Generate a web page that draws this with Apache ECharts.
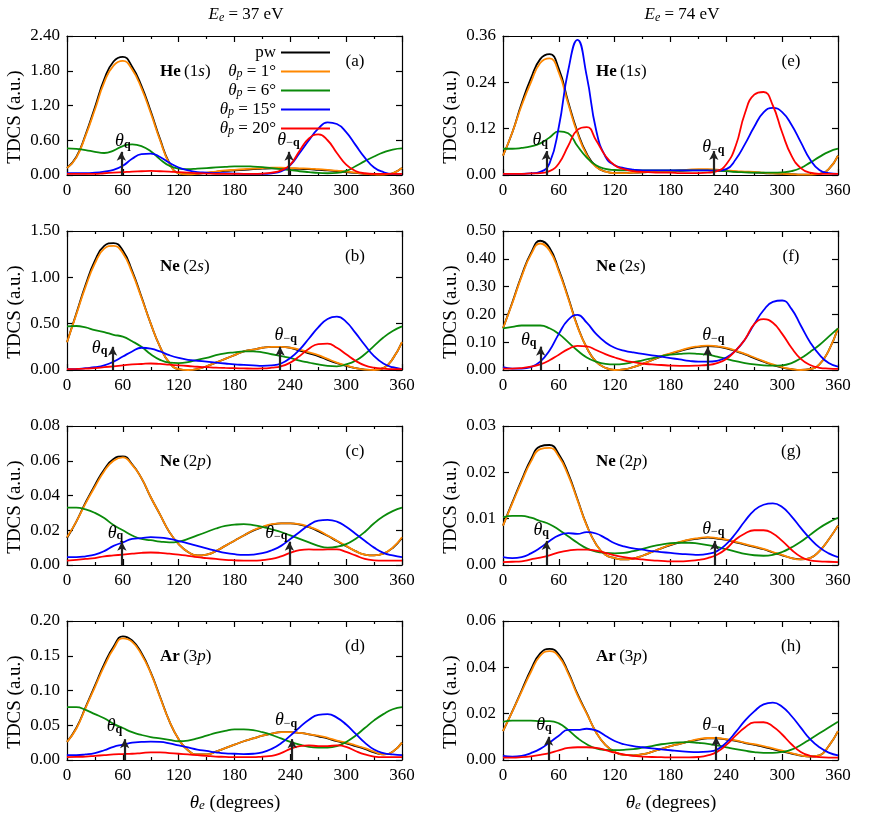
<!DOCTYPE html>
<html>
<head>
<meta charset="utf-8">
<script src="https://cdn.jsdelivr.net/npm/echarts@6/dist/echarts.min.js"></script>
<style>
html, body { margin: 0; padding: 0; background: #fff; }
#chart { width: 872px; height: 816px; }
#err { position: absolute; left: 600px; top: 800px; width: 270px; font: 8px monospace; white-space: pre-wrap; color: #c00; }
</style>
</head>
<body>
<div id="chart"></div>
<div id="err"></div>
<script>
// emission angle, degrees
var theta = [0,10,20,30,40,50,60,70,80,90,100,110,120,130,140,150,160,170,180,190,200,210,220,230,240,250,260,270,280,290,300,310,320,330,340,350,360];

// (a) He 1s, Ee = 37 eV
var a_pw  = [0.12,0.31,0.70,1.17,1.65,1.96,2.04,1.87,1.54,1.10,0.62,0.21,0.03,0.01,0.02,0.035,0.055,0.07,0.08,0.09,0.10,0.11,0.115,0.115,0.11,0.105,0.10,0.09,0.08,0.065,0.05,0.035,0.018,0.009,0.005,0.03,0.12];
var a_p1  = [0.12,0.30,0.68,1.13,1.60,1.89,1.97,1.82,1.50,1.07,0.60,0.20,0.03,0.01,0.02,0.04,0.06,0.08,0.09,0.10,0.11,0.12,0.125,0.125,0.12,0.115,0.11,0.10,0.09,0.075,0.06,0.04,0.02,0.01,0.005,0.03,0.12];
var a_p6  = [0.46,0.45,0.43,0.40,0.38,0.42,0.50,0.53,0.50,0.41,0.27,0.16,0.11,0.10,0.11,0.12,0.13,0.14,0.15,0.15,0.145,0.135,0.12,0.10,0.085,0.065,0.05,0.035,0.03,0.035,0.07,0.15,0.24,0.32,0.39,0.44,0.46];
var a_p15 = [0.03,0.03,0.03,0.04,0.06,0.09,0.16,0.28,0.36,0.37,0.31,0.21,0.13,0.08,0.05,0.04,0.03,0.03,0.025,0.02,0.02,0.02,0.03,0.06,0.17,0.38,0.60,0.80,0.91,0.88,0.74,0.52,0.30,0.13,0.05,0.02,0.02];
var a_p20 = [0.02,0.02,0.02,0.02,0.03,0.04,0.05,0.06,0.065,0.07,0.065,0.06,0.05,0.04,0.03,0.025,0.02,0.02,0.02,0.02,0.02,0.025,0.04,0.08,0.18,0.42,0.63,0.70,0.60,0.38,0.18,0.07,0.03,0.02,0.02,0.02,0.02];

// (b) Ne 2s, 37 eV
var b_pw  = [0.30,0.61,0.92,1.18,1.34,1.37,1.29,1.07,0.79,0.50,0.25,0.08,0.01,0.0,0.01,0.04,0.08,0.12,0.16,0.20,0.22,0.24,0.25,0.25,0.24,0.21,0.18,0.15,0.11,0.075,0.045,0.02,0.005,0.0,0.02,0.12,0.30];
var b_p1  = [0.30,0.60,0.90,1.15,1.31,1.34,1.26,1.05,0.78,0.50,0.25,0.08,0.01,0.0,0.01,0.04,0.08,0.12,0.16,0.20,0.22,0.24,0.25,0.25,0.24,0.22,0.19,0.16,0.12,0.08,0.05,0.02,0.005,0.0,0.02,0.12,0.30];
var b_p6  = [0.47,0.475,0.46,0.43,0.41,0.38,0.36,0.31,0.25,0.17,0.11,0.08,0.075,0.085,0.11,0.13,0.16,0.18,0.19,0.20,0.20,0.19,0.17,0.15,0.13,0.10,0.08,0.06,0.045,0.04,0.06,0.10,0.17,0.26,0.35,0.42,0.47];
var b_p15 = [0.01,0.01,0.02,0.03,0.05,0.09,0.145,0.20,0.24,0.23,0.20,0.16,0.13,0.11,0.10,0.09,0.08,0.07,0.06,0.055,0.05,0.045,0.05,0.07,0.13,0.22,0.34,0.46,0.55,0.575,0.52,0.40,0.27,0.15,0.07,0.03,0.01];
var b_p20 = [0.01,0.012,0.015,0.02,0.03,0.04,0.05,0.06,0.065,0.07,0.065,0.057,0.05,0.043,0.035,0.03,0.025,0.022,0.02,0.017,0.015,0.017,0.025,0.04,0.08,0.15,0.23,0.28,0.285,0.24,0.17,0.10,0.05,0.025,0.015,0.01,0.01];

// (c) Ne 2p, 37 eV
var c_pw  = [0.0155,0.025,0.036,0.046,0.055,0.061,0.0625,0.058,0.05,0.039,0.029,0.019,0.012,0.0075,0.0055,0.006,0.008,0.011,0.014,0.017,0.0198,0.0218,0.0233,0.024,0.024,0.0233,0.0218,0.0195,0.0168,0.0138,0.0108,0.008,0.006,0.0055,0.0065,0.0098,0.0155];
var c_p1  = [0.016,0.025,0.0355,0.045,0.054,0.06,0.062,0.0576,0.05,0.039,0.029,0.019,0.012,0.0075,0.0055,0.006,0.008,0.011,0.014,0.017,0.02,0.022,0.0235,0.024,0.024,0.0235,0.022,0.02,0.017,0.014,0.011,0.008,0.006,0.0055,0.0065,0.01,0.016];
var c_p6  = [0.033,0.033,0.032,0.03,0.027,0.023,0.02,0.017,0.015,0.0143,0.0135,0.013,0.0135,0.015,0.017,0.019,0.021,0.0225,0.0232,0.0235,0.023,0.022,0.0205,0.019,0.017,0.015,0.013,0.011,0.01,0.0105,0.012,0.015,0.019,0.024,0.028,0.031,0.033];
var c_p15 = [0.0045,0.0045,0.005,0.006,0.008,0.011,0.013,0.015,0.0155,0.016,0.0158,0.015,0.0138,0.0125,0.011,0.0095,0.0082,0.007,0.0062,0.0058,0.006,0.0068,0.0085,0.011,0.015,0.019,0.023,0.0255,0.026,0.025,0.022,0.018,0.014,0.01,0.007,0.0055,0.0045];
var c_p20 = [0.0025,0.003,0.0035,0.004,0.005,0.0055,0.006,0.0065,0.007,0.0072,0.007,0.0065,0.006,0.0053,0.0045,0.004,0.0035,0.003,0.0027,0.0025,0.0025,0.0028,0.0035,0.005,0.007,0.0085,0.009,0.0088,0.009,0.009,0.0075,0.0055,0.0035,0.0027,0.0025,0.0025,0.0025];

// (d) Ar 3p, 37 eV
var d_pw  = [0.026,0.046,0.076,0.107,0.138,0.163,0.178,0.172,0.154,0.126,0.091,0.056,0.03,0.014,0.008,0.008,0.012,0.017,0.022,0.027,0.031,0.035,0.038,0.04,0.04,0.039,0.037,0.034,0.031,0.027,0.024,0.02,0.016,0.011,0.008,0.012,0.025];
var d_p1  = [0.026,0.045,0.075,0.105,0.135,0.16,0.175,0.17,0.152,0.125,0.09,0.056,0.03,0.014,0.008,0.008,0.012,0.017,0.022,0.027,0.031,0.035,0.038,0.04,0.04,0.039,0.037,0.035,0.032,0.028,0.025,0.021,0.017,0.012,0.008,0.012,0.025];
var d_p6  = [0.076,0.076,0.072,0.066,0.06,0.052,0.046,0.04,0.036,0.033,0.031,0.029,0.027,0.028,0.031,0.035,0.039,0.042,0.044,0.044,0.043,0.04,0.036,0.031,0.026,0.022,0.019,0.018,0.018,0.02,0.026,0.035,0.046,0.057,0.066,0.073,0.076];
var d_p15 = [0.007,0.007,0.008,0.01,0.014,0.019,0.022,0.025,0.026,0.0265,0.026,0.024,0.021,0.018,0.015,0.013,0.011,0.0095,0.009,0.0085,0.009,0.011,0.016,0.024,0.035,0.047,0.058,0.065,0.066,0.061,0.051,0.038,0.025,0.015,0.01,0.008,0.007];
var d_p20 = [0.004,0.0045,0.005,0.006,0.007,0.008,0.0085,0.009,0.01,0.011,0.011,0.01,0.009,0.008,0.007,0.006,0.005,0.0045,0.004,0.004,0.004,0.005,0.006,0.01,0.016,0.02,0.021,0.02,0.02,0.021,0.019,0.013,0.008,0.005,0.004,0.004,0.004];

// (e) He 1s, Ee = 74 eV
var e_pw  = [0.05,0.11,0.185,0.25,0.30,0.313,0.275,0.19,0.112,0.055,0.022,0.009,0.005,0.005,0.006,0.007,0.008,0.009,0.01,0.011,0.012,0.013,0.013,0.012,0.011,0.009,0.008,0.007,0.005,0.004,0.003,0.002,0.001,0.001,0.003,0.015,0.05];
var e_p1  = [0.05,0.11,0.18,0.24,0.29,0.302,0.265,0.185,0.108,0.052,0.021,0.009,0.005,0.005,0.006,0.007,0.008,0.009,0.01,0.012,0.014,0.015,0.015,0.014,0.012,0.01,0.009,0.008,0.006,0.004,0.003,0.002,0.001,0.001,0.003,0.015,0.05];
var e_p6  = [0.068,0.068,0.07,0.074,0.082,0.097,0.113,0.108,0.075,0.045,0.025,0.016,0.013,0.012,0.012,0.012,0.012,0.012,0.012,0.012,0.012,0.012,0.012,0.011,0.01,0.008,0.007,0.006,0.006,0.006,0.007,0.01,0.018,0.032,0.047,0.06,0.068];
var e_p15 = [0.003,0.003,0.003,0.004,0.008,0.03,0.125,0.27,0.35,0.256,0.117,0.048,0.025,0.018,0.014,0.012,0.012,0.012,0.012,0.012,0.012,0.012,0.012,0.011,0.015,0.04,0.08,0.125,0.162,0.174,0.163,0.13,0.085,0.04,0.013,0.005,0.003];
var e_p20 = [0.003,0.003,0.003,0.004,0.005,0.01,0.03,0.075,0.117,0.124,0.09,0.05,0.025,0.015,0.01,0.008,0.007,0.006,0.006,0.005,0.005,0.005,0.006,0.01,0.028,0.075,0.16,0.208,0.215,0.18,0.11,0.05,0.018,0.006,0.003,0.003,0.003];

// (f) Ne 2s, 74 eV
var f_pw  = [0.15,0.243,0.34,0.42,0.465,0.44,0.36,0.262,0.158,0.08,0.03,0.008,0.0,0.002,0.01,0.022,0.035,0.048,0.058,0.068,0.077,0.083,0.086,0.084,0.078,0.068,0.056,0.043,0.03,0.018,0.009,0.003,0.0,0.003,0.02,0.07,0.15];
var f_p1  = [0.15,0.24,0.336,0.415,0.455,0.43,0.355,0.258,0.156,0.08,0.03,0.008,0.0,0.002,0.01,0.022,0.035,0.05,0.06,0.07,0.08,0.085,0.088,0.085,0.08,0.07,0.058,0.045,0.032,0.02,0.01,0.003,0.0,0.003,0.02,0.07,0.15];
var f_p6  = [0.15,0.155,0.16,0.16,0.16,0.15,0.13,0.10,0.07,0.045,0.03,0.022,0.02,0.022,0.028,0.035,0.042,0.05,0.055,0.058,0.06,0.058,0.055,0.048,0.04,0.032,0.025,0.02,0.017,0.016,0.017,0.025,0.042,0.065,0.09,0.12,0.15];
var f_p15 = [0.01,0.005,0.005,0.01,0.03,0.07,0.13,0.18,0.198,0.17,0.13,0.10,0.08,0.07,0.063,0.058,0.053,0.048,0.043,0.038,0.033,0.03,0.03,0.033,0.045,0.07,0.11,0.165,0.215,0.245,0.25,0.22,0.16,0.10,0.055,0.025,0.012];
var f_p20 = [0.005,0.005,0.007,0.012,0.02,0.035,0.055,0.075,0.087,0.085,0.072,0.057,0.045,0.035,0.028,0.023,0.02,0.018,0.016,0.015,0.015,0.016,0.018,0.025,0.04,0.07,0.11,0.165,0.183,0.17,0.13,0.08,0.04,0.018,0.008,0.005,0.004];

// (g) Ne 2p, 74 eV
var g_pw  = [0.0085,0.0135,0.0183,0.0228,0.0256,0.0259,0.0239,0.0198,0.0142,0.0086,0.0045,0.0022,0.0015,0.0012,0.0014,0.002,0.0028,0.0036,0.0043,0.0049,0.0054,0.0057,0.0059,0.0057,0.0054,0.0049,0.0044,0.0039,0.0034,0.0027,0.0021,0.0015,0.0012,0.0015,0.003,0.0055,0.0085];
var g_p1  = [0.0085,0.0133,0.018,0.0223,0.025,0.0253,0.0234,0.0194,0.014,0.0085,0.0045,0.0022,0.0015,0.0012,0.0014,0.002,0.0028,0.0036,0.0044,0.005,0.0055,0.0058,0.006,0.0058,0.0055,0.005,0.0045,0.004,0.0035,0.0028,0.0022,0.0015,0.0012,0.0015,0.003,0.0055,0.0085];
var g_p6  = [0.0103,0.0106,0.0106,0.0102,0.0095,0.0088,0.0076,0.0062,0.0048,0.0036,0.0029,0.0026,0.0025,0.0026,0.003,0.0035,0.004,0.0044,0.0047,0.0048,0.0048,0.0046,0.0043,0.0039,0.0034,0.0029,0.0024,0.0021,0.002,0.0022,0.0028,0.0038,0.005,0.0065,0.008,0.0092,0.0102];
var g_p15 = [0.0017,0.0015,0.0017,0.0025,0.0037,0.0052,0.0064,0.0069,0.0067,0.0071,0.0068,0.0058,0.0047,0.004,0.0036,0.0033,0.003,0.0028,0.0026,0.0024,0.0023,0.0022,0.0024,0.003,0.0045,0.0068,0.0095,0.0118,0.013,0.0133,0.0125,0.0105,0.008,0.0057,0.0038,0.0025,0.0017];
var g_p20 = [0.0006,0.0007,0.0008,0.0012,0.0016,0.0021,0.0027,0.0031,0.0033,0.0033,0.0031,0.0026,0.0021,0.0017,0.0014,0.0012,0.001,0.0009,0.0008,0.0008,0.0009,0.0011,0.0015,0.0022,0.0035,0.0055,0.0068,0.0075,0.0075,0.0068,0.0052,0.0033,0.0018,0.001,0.0008,0.0007,0.0006];

// (h) Ar 3p, 74 eV
var h_pw  = [0.0125,0.021,0.03,0.039,0.046,0.048,0.0455,0.038,0.0285,0.0202,0.012,0.0065,0.0035,0.0022,0.002,0.0025,0.0035,0.0048,0.006,0.007,0.008,0.0088,0.0093,0.0093,0.0088,0.0083,0.0073,0.0065,0.0057,0.0047,0.0037,0.0028,0.0019,0.0015,0.002,0.006,0.0125];
var h_p1  = [0.0125,0.0209,0.0295,0.038,0.045,0.047,0.0446,0.0374,0.028,0.02,0.012,0.0065,0.0035,0.0022,0.002,0.0025,0.0035,0.0048,0.006,0.007,0.008,0.009,0.0095,0.0095,0.009,0.0085,0.0075,0.0068,0.006,0.005,0.004,0.003,0.002,0.0015,0.002,0.006,0.0125];
var h_p6  = [0.0165,0.017,0.017,0.017,0.0168,0.0168,0.0158,0.013,0.0095,0.0068,0.005,0.0044,0.0043,0.0044,0.0047,0.0053,0.006,0.0068,0.0073,0.0076,0.0077,0.0074,0.007,0.0063,0.0055,0.0047,0.004,0.0034,0.0031,0.0031,0.0035,0.0045,0.0065,0.009,0.0115,0.014,0.0165];
var h_p15 = [0.0018,0.0015,0.0018,0.003,0.0048,0.0075,0.0105,0.013,0.013,0.0135,0.0128,0.0105,0.0082,0.0068,0.006,0.0055,0.005,0.0046,0.0042,0.0038,0.0035,0.0034,0.0036,0.0045,0.0075,0.012,0.017,0.021,0.024,0.0248,0.023,0.019,0.014,0.009,0.0055,0.0032,0.002];
var h_p20 = [0.001,0.001,0.0012,0.0016,0.0022,0.003,0.0042,0.0052,0.0055,0.0055,0.0052,0.0043,0.0032,0.0024,0.0018,0.0015,0.0013,0.0012,0.0011,0.0011,0.0011,0.0013,0.002,0.0035,0.0065,0.0105,0.014,0.0162,0.0163,0.0145,0.011,0.0068,0.0035,0.0018,0.0012,0.001,0.001];

var seriesNames = ['pw', 'θp = 1°', 'θp = 6°', 'θp = 15°', 'θp = 20°'];
// panels a,b,c,d (left column) then e,f,g,h (right column)
var panelData = [
    [a_pw, a_p1, a_p6, a_p15, a_p20], [b_pw, b_p1, b_p6, b_p15, b_p20],
    [c_pw, c_p1, c_p6, c_p15, c_p20], [d_pw, d_p1, d_p6, d_p15, d_p20],
    [e_pw, e_p1, e_p6, e_p15, e_p20], [f_pw, f_p1, f_p6, f_p15, f_p20],
    [g_pw, g_p1, g_p6, g_p15, g_p20], [h_pw, h_p1, h_p6, h_p15, h_p20]
];
var yMax  = [2.4, 1.5, 0.08, 0.2, 0.36, 0.5, 0.03, 0.06];
var yStep = [0.6, 0.5, 0.02, 0.05, 0.12, 0.1, 0.01, 0.02];
var panelTags = ['(a)', '(b)', '(c)', '(d)', '(e)', '(f)', '(g)', '(h)'];
var atoms = ['He', 'Ne', 'Ne', 'Ar', 'He', 'Ne', 'Ne', 'Ar'];
var shells = [['1', 's'], ['2', 's'], ['2', 'p'], ['3', 'p'], ['1', 's'], ['2', 's'], ['2', 'p'], ['3', 'p']];

// momentum-transfer directions: arrow angle, arrow height, label spots
var thetaQ      = [58.4, 49, 59, 62, 46.6, 40.5, 46.6, 49];
var thetaMinusQ = [238.7, 229, 239, 242, 226.5, 220, 227.5, 229];
var arrowTop    = [0.40, 0.25, 0.0134, 0.03, 0.062, 0.084, 0.0052, 0.01];
var labelQ      = [[60, 0.58], [35, 0.234], [52, 0.0182], [51, 0.048], [40, 0.091], [27.6, 0.108], [41, 0.0076], [44, 0.0151]];
var labelMinusQ = [[238, 0.6], [235, 0.37], [225, 0.0182], [235.5, 0.0566], [226, 0.072], [226, 0.124], [226, 0.0078], [226, 0.0151]];

var FONT = 'Liberation Serif';
var colors = ['#000000', '#ff8800', '#0a8a0a', '#0000ff', '#ff0000'];
var colLeft = [67, 503];
var rowTop = [36, 231, 426, 621];
var W = 335, H = 139;

var errs = [];
var chart = echarts.init(document.getElementById('chart'));

function build(smooth) {
    var grids = [], xAxes = [], yAxes = [], series = [];
    for (var i = 0; i < 8; i++) {
        grids.push({ left: colLeft[i < 4 ? 0 : 1], top: rowTop[i % 4], width: W, height: H });
        var tick = { inside: true, length: 6 };
        xAxes.push({ gridIndex: i, type: 'value', position: 'bottom', min: 0, max: 360, interval: 60,
            axisLine: { show: true, onZero: false }, axisTick: tick, minorTick: { show: true, splitNumber: 2 },
            axisLabel: { margin: 7, fontFamily: FONT, fontSize: 17 }, splitLine: { show: false } });
        xAxes.push({ gridIndex: i, type: 'value', position: 'top', min: 0, max: 360, interval: 60,
            axisLine: { show: true, onZero: false }, axisTick: tick, minorTick: { show: true, splitNumber: 2 },
            axisLabel: { show: false }, splitLine: { show: false } });
        yAxes.push({ gridIndex: i, type: 'value', position: 'left', min: 0, max: yMax[i], interval: yStep[i],
            axisLine: { show: true, onZero: false }, axisTick: tick,
            axisLabel: { margin: 7, fontFamily: FONT, fontSize: 17, formatter: function (v) { return v.toFixed(2); } }, splitLine: { show: false } });
        yAxes.push({ gridIndex: i, type: 'value', position: 'right', min: 0, max: yMax[i], interval: yStep[i],
            axisLine: { show: true, onZero: false }, axisTick: tick, axisLabel: { show: false }, splitLine: { show: false } });
        for (var s = 0; s < 5; s++) {
            var arr = panelData[i][s];
            var pts = [];
            for (var k = 0; k < theta.length; k++) pts.push([theta[k], arr[k]]);
            series.push({ name: seriesNames[s], type: 'line', xAxisIndex: 2 * i, yAxisIndex: 2 * i,
                data: pts, smooth: smooth, symbol: 'none' });
        }
    }
    return { animation: false, grid: grids, xAxis: xAxes, yAxis: yAxes, series: series };
}

var ok = false;
try { chart.setOption(build(0.5)); ok = true; } catch (e) { errs.push('base: ' + e.message); }
if (!ok) {
    chart.dispose(); chart = echarts.init(document.getElementById('chart'));
    try { chart.setOption(build(false)); } catch (e) { errs.push('base2: ' + e.message); }
}
function stage(label, opt) {
    try { chart.setOption(opt); } catch (e) { errs.push(label + ': ' + e.message); }
}

// axis and line styling
var xs = [], ys = [];
for (var i = 0; i < 16; i++) {
    xs.push({ axisLine: { lineStyle: { color: '#000', width: 1.2 } }, axisTick: { lineStyle: { color: '#000', width: 1.2 } },
              minorTick: { length: 3, lineStyle: { color: '#000', width: 1.2 } }, axisLabel: { color: '#000' } });
    ys.push({ axisLine: { lineStyle: { color: '#000', width: 1.2 } }, axisTick: { lineStyle: { color: '#000', width: 1.2 } },
              axisLabel: { color: '#000' } });
}
stage('axes', { xAxis: xs, yAxis: ys });
var ss = [];
for (var i = 0; i < 40; i++) ss.push({ lineStyle: { color: colors[i % 5], width: 1.8 }, itemStyle: { color: colors[i % 5] } });
stage('series', { series: ss });

// momentum-transfer arrows and labels
var mk = [];
for (var i = 0; i < 8; i++) {
    for (var s = 0; s < 5; s++) {
        if (s < 4) { mk.push({}); continue; }
        mk.push({
            markLine: {
                silent: true, symbol: ['none', 'arrow'], symbolSize: [7, 9],
                lineStyle: { color: '#222', width: 2.2, type: 'solid' },
                label: { show: false },
                data: [
                    [{ coord: [thetaQ[i], 0] }, { coord: [thetaQ[i], arrowTop[i]] }],
                    [{ coord: [thetaMinusQ[i], 0] }, { coord: [thetaMinusQ[i], arrowTop[i]] }]
                ]
            },
            markPoint: {
                silent: true, symbol: 'circle', symbolSize: 0,
                label: {
                    show: true, position: 'inside', color: '#000',
                    formatter: function (p) { return p.name === 'q' ? '{t|θ}{b|q}' : '{t|θ}{m|−}{b|q}'; },
                    rich: {
                        t: { fontFamily: FONT, fontStyle: 'italic', fontSize: 18, lineHeight: 18, verticalAlign: 'top' },
                        m: { fontFamily: FONT, fontSize: 12, lineHeight: 12, padding: [7, 0, 0, 0], verticalAlign: 'bottom' },
                        b: { fontFamily: FONT, fontWeight: 'bold', fontSize: 12, lineHeight: 12, padding: [7, 0, 0, 0], verticalAlign: 'bottom' }
                    }
                },
                data: [{ name: 'q', coord: labelQ[i] }, { name: '-q', coord: labelMinusQ[i] }]
            }
        });
    }
}
stage('markers', { series: mk });

stage('legend', {
    legend: {
        data: seriesNames, orient: 'vertical', align: 'right',
        right: 872 - 335, top: 39,
        icon: 'rect', itemWidth: 49, itemHeight: 2, itemGap: 0,
        selectedMode: false,
        textStyle: {
            color: '#000', fontFamily: FONT, fontSize: 17,
            rich: {
                n: { fontFamily: FONT, fontSize: 17, lineHeight: 17, verticalAlign: 'top' },
                t: { fontFamily: FONT, fontStyle: 'italic', fontSize: 17, lineHeight: 17, verticalAlign: 'top' },
                s: { fontFamily: FONT, fontStyle: 'italic', fontSize: 12, lineHeight: 12, padding: [7, 0, 0, 0], verticalAlign: 'bottom' }
            }
        },
        formatter: function (name) {
            if (name === 'pw') return '{n|pw}';
            return '{t|θ}{s|p}{n| = ' + name.split('= ')[1] + '}';
        }
    }
});

// text: panel tags, target labels, axis titles, column titles
var graphics = [];
for (var i = 0; i < 8; i++) {
    var gx = colLeft[i < 4 ? 0 : 1], gy = rowTop[i % 4];
    graphics.push({ type: 'text', silent: true,
        style: { text: panelTags[i], x: gx + 288, y: gy + 26, align: 'center', verticalAlign: 'middle', fontFamily: FONT, fontSize: 17, fill: '#000' } });
    graphics.push({ type: 'text', silent: true,
        style: {
            text: '{b|' + atoms[i] + '} {n|(' + shells[i][0] + '}{i|' + shells[i][1] + '}{n|)}',
            x: gx + 93, y: gy + 36, align: 'left', verticalAlign: 'middle', fill: '#000',
            rich: {
                b: { fontFamily: FONT, fontWeight: 'bold', fontSize: 17 },
                n: { fontFamily: FONT, fontSize: 17 },
                i: { fontFamily: FONT, fontStyle: 'italic', fontSize: 17 }
            }
        } });
    graphics.push({ type: 'text', silent: true, x: gx - 52, y: gy + 81, rotation: Math.PI / 2,
        style: { text: 'TDCS (a.u.)', x: 0, y: 0, align: 'center', verticalAlign: 'middle', fontFamily: FONT, fontSize: 19, fill: '#000' } });
}
['37', '74'].forEach(function (ev, c) {
    graphics.push({ type: 'text', silent: true,
        style: {
            text: '{i|E}{s|e}{n| = ' + ev + ' eV}',
            x: colLeft[c] + 179, y: 15, align: 'center', verticalAlign: 'middle', fill: '#000',
            rich: {
                i: { fontFamily: FONT, fontStyle: 'italic', fontSize: 17, lineHeight: 18, verticalAlign: 'top' },
                s: { fontFamily: FONT, fontStyle: 'italic', fontSize: 12, lineHeight: 12, padding: [7, 0, 0, 0], verticalAlign: 'bottom' },
                n: { fontFamily: FONT, fontSize: 17, lineHeight: 18, verticalAlign: 'top' }
            }
        } });
    graphics.push({ type: 'text', silent: true,
        style: {
            text: '{i|θ}{s|e}{n| (degrees)}',
            x: colLeft[c] + 168, y: rowTop[3] + H + 43, align: 'center', verticalAlign: 'middle', fill: '#000',
            rich: {
                i: { fontFamily: FONT, fontStyle: 'italic', fontSize: 19, lineHeight: 19, verticalAlign: 'top' },
                s: { fontFamily: FONT, fontStyle: 'italic', fontSize: 13, lineHeight: 13, padding: [7, 0, 0, 0], verticalAlign: 'bottom' },
                n: { fontFamily: FONT, fontSize: 19, lineHeight: 19, verticalAlign: 'top' }
            }
        } });
});
stage('graphic', { graphic: graphics });

if (errs.length) document.getElementById('err').textContent = errs.join(' | ');
</script>
</body>
</html>
